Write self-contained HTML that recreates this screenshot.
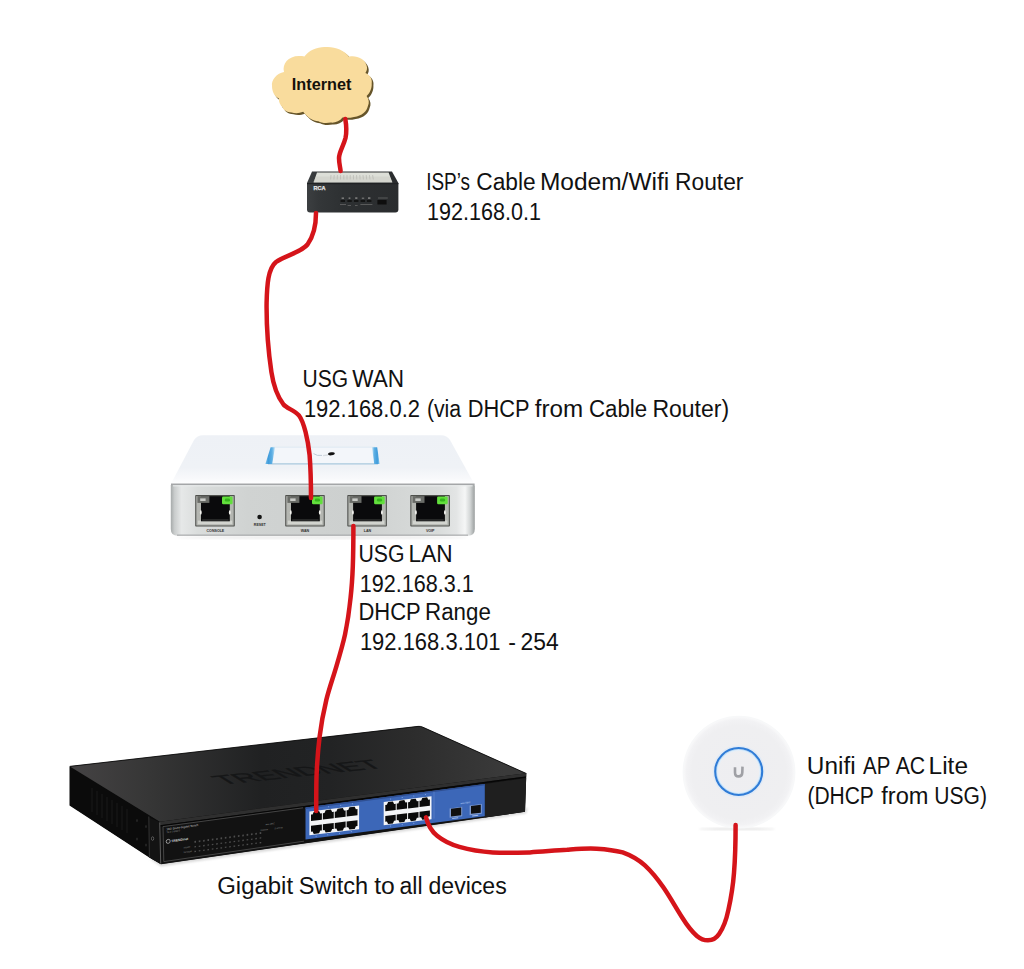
<!DOCTYPE html>
<html lang="en">
<head>
<meta charset="utf-8">
<title>Network diagram</title>
<style>
  html, body { margin: 0; padding: 0; background: #ffffff; }
  body { width: 1024px; height: 969px; overflow: hidden; }
  svg { display: block; }
  .lbl { font-family: "Liberation Sans", sans-serif; font-size: 23px; fill: #111111; }
  .cable { fill: none; stroke: #d5141a; stroke-width: 4.5; stroke-linecap: round; stroke-linejoin: round; }
</style>
</head>
<body>
<svg width="1024" height="969" viewBox="0 0 1024 969">
  <defs>
    <filter id="blur05" x="-10%" y="-10%" width="120%" height="120%"><feGaussianBlur stdDeviation="0.7"/></filter>
    <filter id="blur1" x="-10%" y="-10%" width="120%" height="120%"><feGaussianBlur stdDeviation="0.8"/></filter>
    <filter id="blur2" x="-20%" y="-20%" width="140%" height="140%"><feGaussianBlur stdDeviation="2"/></filter>
    <linearGradient id="usgFront" x1="0" y1="0" x2="1" y2="0">
      <stop offset="0" stop-color="#a6aaaa"/>
      <stop offset="0.012" stop-color="#c9cccc"/>
      <stop offset="0.035" stop-color="#e6e8e8"/>
      <stop offset="0.09" stop-color="#dadddc"/>
      <stop offset="0.25" stop-color="#d0d3d2"/>
      <stop offset="0.6" stop-color="#cdd0cf"/>
      <stop offset="0.88" stop-color="#d9dcdb"/>
      <stop offset="0.94" stop-color="#e3e5e5"/>
      <stop offset="0.968" stop-color="#f5f6f6"/>
      <stop offset="0.985" stop-color="#d2d5d5"/>
      <stop offset="1" stop-color="#9a9e9e"/>
    </linearGradient>
    <linearGradient id="usgTop" x1="0" y1="0" x2="0" y2="1">
      <stop offset="0" stop-color="#eef1f6"/>
      <stop offset="0.65" stop-color="#eff2f6"/>
      <stop offset="0.88" stop-color="#f8f9fb"/>
      <stop offset="1" stop-color="#ffffff"/>
    </linearGradient>
    <radialGradient id="apDisc" cx="0.5" cy="0.5" r="0.5">
      <stop offset="0" stop-color="#eeeef1"/>
      <stop offset="0.85" stop-color="#efeff1"/>
      <stop offset="0.95" stop-color="#f2f2f4"/>
      <stop offset="1" stop-color="#f8f8f9"/>
    </radialGradient>
    <linearGradient id="swTop" x1="0" y1="0" x2="1" y2="0">
      <stop offset="0" stop-color="#454344"/>
      <stop offset="0.175" stop-color="#363636"/>
      <stop offset="0.42" stop-color="#202122"/>
      <stop offset="0.57" stop-color="#222324"/>
      <stop offset="0.745" stop-color="#2c2c2c"/>
      <stop offset="0.95" stop-color="#3a3a3a"/>
      <stop offset="1" stop-color="#3a3a3a"/>
    </linearGradient>
    <g id="usgPort">
      <rect x="0" y="0" width="39.6" height="31.6" rx="0.8" fill="#4f514d"/>
      <rect x="1.1" y="1.1" width="37.4" height="29.4" fill="#b4b6b1"/>
      <rect x="2.6" y="25.6" width="34.4" height="3.6" fill="#d2d4cf"/>
      <rect x="5.8" y="1.1" width="28.8" height="25.2" fill="#0a0a0c"/>
      <rect x="2.2" y="1.1" width="12" height="6.8" fill="#6a6c68"/>
      <rect x="5" y="3.4" width="5.4" height="2.6" fill="#c9cbc7"/>
      <rect x="26.8" y="1.6" width="10.6" height="7.6" rx="1.2" fill="#62df3c"/>
      <rect x="29.6" y="3.6" width="5.2" height="3" rx="1.4" fill="#35b31d"/>
      <ellipse cx="5.6" cy="17.4" rx="0.9" ry="2.2" fill="#f2f2ee"/>
      <ellipse cx="34.6" cy="17.4" rx="0.9" ry="2.2" fill="#f2f2ee"/>
      <rect x="7" y="24.4" width="26.4" height="1.2" fill="#3a3c3a"/>
    </g>
    <linearGradient id="ledL" x1="0" y1="0" x2="1" y2="0">
      <stop offset="0" stop-color="#7cc0ea"/><stop offset="0.3" stop-color="#3f9bda"/><stop offset="0.7" stop-color="#5fb0e4"/><stop offset="1" stop-color="#c4e4f7"/>
    </linearGradient>
    <linearGradient id="ledR" x1="0" y1="0" x2="1" y2="0">
      <stop offset="0" stop-color="#c4e4f7"/><stop offset="0.3" stop-color="#5fb0e4"/><stop offset="0.7" stop-color="#3f9bda"/><stop offset="1" stop-color="#8ccaf0"/>
    </linearGradient>
    <linearGradient id="modemBody" x1="0" y1="0" x2="1" y2="0">
      <stop offset="0" stop-color="#3c3f41"/><stop offset="0.12" stop-color="#343739"/><stop offset="0.4" stop-color="#2d3032"/><stop offset="1" stop-color="#2a2c2e"/>
    </linearGradient>
  </defs>

  <!-- ============ CLOUD ============ -->
  <g id="cloud">
    <path id="cloudShape" transform="translate(1.7,1.9)" fill="#66542b" filter="url(#blur05)"
      d="M272,86 C271,80 277,73 284,72 C282,64 288,56 299,56 C301,56 303,56 304.4,56.5 C309,50 318,46.5 326,47 C335,46.5 344,50 349,56.8 C356,55 365,59 366.6,65.5 C367.5,68 367,71 365.4,73 C370,75 372.5,79 371.7,83.5 C372,88 370,93 366.6,96 C369,99 369.5,103 367.9,106 C367,111 362,116 354,117 C350,118 346,118 342.5,117.5 C340,121 335,123 331,122.6 C326,123.5 321,123 318.4,121.3 C313,121 308,118 303.2,111.8 C299,113.5 295,113.5 291.7,112.4 C287,112 283,110 282.8,107.4 C280,105 278.5,102 279,98.5 C275,97 272,92 272,86 Z"/>
    <path fill="#f9dc9d"
      d="M272,86 C271,80 277,73 284,72 C282,64 288,56 299,56 C301,56 303,56 304.4,56.5 C309,50 318,46.5 326,47 C335,46.5 344,50 349,56.8 C356,55 365,59 366.6,65.5 C367.5,68 367,71 365.4,73 C370,75 372.5,79 371.7,83.5 C372,88 370,93 366.6,96 C369,99 369.5,103 367.9,106 C367,111 362,116 354,117 C350,118 346,118 342.5,117.5 C340,121 335,123 331,122.6 C326,123.5 321,123 318.4,121.3 C313,121 308,118 303.2,111.8 C299,113.5 295,113.5 291.7,112.4 C287,112 283,110 282.8,107.4 C280,105 278.5,102 279,98.5 C275,97 272,92 272,86 Z"/>
    <text x="291.8" y="90.4" font-family="'Liberation Sans', sans-serif" font-weight="bold" font-size="15.8" fill="#15110a" textLength="59.6" lengthAdjust="spacingAndGlyphs">Internet</text>
  </g>


  <!-- ============ MODEM ============ -->
  <g id="modem">
    <path d="M312,171.6 L392,171.6 L398.4,183 L398.4,209.5 Q398.4,212.4 395.4,212.4 L310,212.4 Q307,212.4 307,209.5 L307,183 Z" fill="url(#modemBody)"/>
    <path d="M317,172.5 L388.6,172.5 L392.4,182.4 L313.6,182.4 Z" fill="#dddfd8"/>
    <path d="M316,176.5 L389.5,176.5 L392.4,182 L313.3,182 Z" fill="#c9cac3" opacity="0.45"/>
    <g stroke="#b7b8b2" stroke-width="0.7">
      <line x1="331" y1="175" x2="330.6" y2="179.5"/><line x1="334.2" y1="175" x2="333.9" y2="179.5"/>
      <line x1="337.4" y1="175" x2="337.2" y2="179.5"/><line x1="340.6" y1="175" x2="340.5" y2="179.5"/>
      <line x1="343.8" y1="175" x2="343.8" y2="179.5"/><line x1="347" y1="175" x2="347" y2="179.5"/>
      <line x1="350.2" y1="175" x2="350.2" y2="179.5"/><line x1="353.4" y1="175" x2="353.5" y2="179.5"/>
      <line x1="356.6" y1="175" x2="356.8" y2="179.5"/><line x1="359.8" y1="175" x2="360.1" y2="179.5"/>
      <line x1="363" y1="175" x2="363.4" y2="179.5"/><line x1="366.2" y1="175" x2="366.7" y2="179.5"/>
      <line x1="369.4" y1="175" x2="370" y2="179.5"/><line x1="372.6" y1="175" x2="373.3" y2="179.5"/>
    </g>
    <rect x="307" y="183" width="91.4" height="1.2" fill="#202224"/>
    <text x="313.4" y="189.9" font-family="'Liberation Sans', sans-serif" font-weight="bold" font-size="5" fill="#e6e6e6" stroke="#e6e6e6" stroke-width="0.25" textLength="12" lengthAdjust="spacingAndGlyphs">RCA</text>
    <g fill="#777777">
      <rect x="341.6" y="197.4" width="2.4" height="1.6"/><rect x="348.6" y="197.4" width="1.8" height="1.6"/>
      <rect x="355.2" y="197.2" width="2.2" height="1.8"/><rect x="361.8" y="197.6" width="2.4" height="1.2"/>
      <rect x="368" y="197.2" width="2.4" height="1.8"/>
    </g>
    <g fill="#0e0e0e">
      <rect x="340.6" y="200.2" width="4.4" height="1.6"/><rect x="347.4" y="200.2" width="4.4" height="1.6"/>
      <rect x="354" y="200.2" width="4.4" height="1.6"/><rect x="360.6" y="200.2" width="4.4" height="1.6"/>
      <rect x="367" y="200.2" width="4.4" height="1.6"/>
      <rect x="377.4" y="200" width="9.2" height="4.6" rx="0.6"/>
    </g>
    <g fill="#666666">
      <rect x="340" y="204" width="6" height="0.8"/><rect x="347.6" y="205" width="3.4" height="0.8"/>
      <rect x="355" y="205" width="2.6" height="0.8"/><rect x="360.4" y="204" width="12" height="0.8"/>
      <rect x="378" y="197.6" width="9.8" height="0.8"/>
    </g>
  </g>


  <!-- ============ USG ============ -->
  <g id="usg">
    <!-- soft shadow under -->
    <ellipse cx="322" cy="537.6" rx="146" ry="1.8" fill="#efefef" filter="url(#blur1)"/>
    <!-- top surface -->
    <path d="M203,435.2 L441,435.2 Q447,435.2 450,440 L474.6,484.5 L170.6,484.5 L194,440 Q197,435.2 203,435.2 Z" fill="url(#usgTop)"/>
    <!-- LED plate -->
    <path d="M272,447 L375,447 L378.6,464 L267,464 Z" fill="#f3f6fa"/>
    <path d="M272,447.2 L375,447.2" stroke="#dbe8f2" stroke-width="0.9" fill="none"/>
    <path d="M268,463.8 L378,463.8" stroke="#a9c8dd" stroke-width="1.2" fill="none"/>
    <path d="M270.6,447.2 L275,447.2 L272.2,464 L265.4,464 Z" fill="url(#ledL)"/>
    <path d="M372,447.2 L377.2,447.2 L379.6,464 L374.2,464 Z" fill="url(#ledR)"/>
    <!-- tiny logo on plate -->
    <path d="M313.5,453.6 Q317,456.2 322,455.4" stroke="#b9c6d4" stroke-width="0.9" fill="none"/>
    <ellipse cx="331.4" cy="453.8" rx="3.4" ry="1.5" fill="#111111" transform="rotate(-8 331.4 453.8)"/>
    <path d="M323,455.6 L328,455" stroke="#d8dde2" stroke-width="1.4"/>
    <!-- front face -->
    <path d="M172,484.2 L473,484.2 Q474.8,484.2 474.8,486 L474.8,529 Q474.8,535.8 468,535.8 L177.6,535.8 Q170.8,535.8 170.8,529 L170.8,485.4 Q170.8,484.2 172,484.2 Z" fill="url(#usgFront)"/>
    <rect x="171" y="483.5" width="303.6" height="1.6" fill="#a4a6a8"/>
    <rect x="173" y="485.2" width="299.6" height="1.2" fill="#e9ebeb" opacity="0.9"/>
    <rect x="177" y="534.5" width="291" height="1.3" fill="#a9abac" opacity="0.9"/>
    <!-- ports -->
    <use href="#usgPort" transform="translate(195.2,495)"/>
    <use href="#usgPort" transform="translate(285.2,495)"/>
    <use href="#usgPort" transform="translate(347.3,495)"/>
    <use href="#usgPort" transform="translate(410.3,495)"/>
    <circle cx="259.6" cy="517" r="2.3" fill="#141414"/>
    <g font-family="'Liberation Sans', sans-serif" font-weight="bold" font-size="3.6" fill="#2e2e2e" text-anchor="middle">
      <text x="215.4" y="531.8">CONSOLE</text>
      <text x="259.8" y="526.2">RESET</text>
      <text x="305" y="531.8">WAN</text>
      <text x="367.4" y="531.8">LAN</text>
      <text x="430.2" y="531.8">VOIP</text>
    </g>
  </g>

  <!-- ============ SWITCH ============ -->
  <g id="switch">
    <!-- ground shadow -->
    <path d="M150,859 L161,866.5 L526,813.5 L528,808 Z" fill="#d9d9d9" filter="url(#blur1)"/>
    <!-- silhouette base (avoids anti-alias seams) -->
    <path d="M70,766.6 L418,726.6 Q420.4,726.3 422.4,727.3 L526,773.6 L524.8,811.6 L161.2,863.9 L149.5,857.2 L70,805.2 Z" fill="#1c1c1c"/>
    <!-- left side -->
    <path d="M69.5,766.4 L160,821.7 L161,864.2 L149.3,857.4 L69.5,805.4 Z" fill="#0b0b0b"/>
    <path d="M148.8,817.3 L159.4,822 L160.6,864 L149.3,857.4 Z" fill="#131313"/>
    <path d="M148.8,816.5 L149.4,857.4" stroke="#3c3c3c" stroke-width="0.8"/>
    <ellipse cx="152.6" cy="838.6" rx="1.1" ry="1.8" fill="#0a0a0a" stroke="#8a8a8a" stroke-width="0.6"/>
    <g fill="#2a2a2a">
      <ellipse cx="137" cy="820.6" rx="0.8" ry="1.5"/><ellipse cx="146" cy="826.5" rx="0.8" ry="1.5"/>
      <ellipse cx="137" cy="839" rx="0.8" ry="1.5"/><ellipse cx="146" cy="845" rx="0.8" ry="1.5"/>
    </g>
    <g stroke="#161616" stroke-width="1.4">
      <line x1="92" y1="788" x2="92" y2="812"/><line x1="97" y1="791" x2="97" y2="815"/><line x1="102" y1="794" x2="102" y2="818"/>
      <line x1="107" y1="797" x2="107" y2="821"/><line x1="112" y1="800" x2="112" y2="824"/><line x1="117" y1="803" x2="117" y2="827"/>
      <line x1="122" y1="806" x2="122" y2="830"/><line x1="127" y1="809" x2="127" y2="833"/>
    </g>
    <!-- top surface -->
    <path d="M69.7,766.3 L418,726.3 Q420.4,726 422.6,727 L526.3,773.4 L160,821.7 Z" fill="url(#swTop)"/>
    <path d="M69.7,766.4 L418,726.4 Q420.4,726.1 422.6,727.1 L526.3,773.5" fill="none" stroke="#0c0c0c" stroke-width="0.9"/>
    <!-- embossed brand on top -->
    <text transform="matrix(1,-0.105,0.96,0.583,223,784.6)" x="0" y="0" font-family="'Liberation Sans', sans-serif" font-size="20" fill="#151617" stroke="#151617" stroke-width="0.5" style="text-transform:uppercase" textLength="162" lengthAdjust="spacingAndGlyphs">TRENDnet</text>
    <!-- front face -->
    <path d="M160,821.7 L526.3,773.2 L525,811.8 L161,864.2 Z" fill="#121212"/>
    <path d="M160,821.7 L526.3,773.2 L526.2,776.4 L160.1,825.2 Z" fill="#2f2f2f"/>
    <path d="M160.1,825.2 L526.2,776.4 L526.2,777.6 L160.1,826.5 Z" fill="#060606"/>
    <path d="M484.8,784 L526.2,778 L525,811.8 L484.8,817.4 Z" fill="#1f1f1f"/>
    <path d="M159.7,822.4 L160.7,863.6" stroke="#6e6e6e" stroke-width="0.8" fill="none"/>
    <!-- inset outline of the front panel -->
    <path d="M163,826.6 L303,807.8 M163,826.6 L163.8,861.6 L304,841.2" fill="none" stroke="#5a5a5a" stroke-width="0.7"/>
    <!-- blue panel -->
    <path d="M305.5,807.6 L484.8,784 L484.8,816.2 L305.5,839.6 Z" fill="#3c67b8"/>
    <g fill="#86a8e8">
      <circle cx="316.6" cy="808.3" r="0.55"/><circle cx="328.6" cy="806.8" r="0.55"/><circle cx="340.7" cy="805.2" r="0.55"/><circle cx="352.4" cy="803.7" r="0.55"/>
      <circle cx="316.1" cy="836.2" r="0.55"/><circle cx="327.8" cy="834.8" r="0.55"/><circle cx="339.5" cy="833.3" r="0.55"/><circle cx="351.3" cy="831.6" r="0.55"/>
      <circle cx="390.6" cy="799" r="0.55"/><circle cx="402.2" cy="797.5" r="0.55"/><circle cx="413.8" cy="796" r="0.55"/><circle cx="425.4" cy="794.5" r="0.55"/>
      <circle cx="390.6" cy="826" r="0.55"/><circle cx="402.2" cy="824.6" r="0.55"/><circle cx="413.8" cy="823.2" r="0.55"/><circle cx="425.4" cy="821.8" r="0.55"/>
    </g>
    <path d="M305.5,807.6 L484.8,784 L484.8,785.2 L305.5,808.9 Z" fill="#2f4f92"/>
    <path d="M434,791.6 L434,818.6" stroke="#6f93d4" stroke-width="0.5"/>
    <!-- RJ45 blocks -->
    <g transform="matrix(1,-0.122,0,1,309.4,811.6)">
      <rect x="0" y="0" width="49.7" height="23.6" fill="#f4f5f7"/>
      <path fill="#0a0a0a" d="M1.60,9.56 L1.60,3.20 L3.20,3.20 L4.40,0.60 L9.68,0.60 L10.88,3.20 L12.47,3.20 L12.47,9.56 Z"/>
      <path fill="#0a0a0a" d="M1.60,14.40 L12.47,14.40 L12.47,20.30 L10.88,20.30 L9.68,22.90 L4.40,22.90 L3.20,20.30 L1.60,20.30 Z"/>
      <path fill="#0a0a0a" d="M13.47,9.56 L13.47,3.20 L15.07,3.20 L16.27,0.60 L21.55,0.60 L22.75,3.20 L24.35,3.20 L24.35,9.56 Z"/>
      <path fill="#0a0a0a" d="M13.47,14.40 L24.35,14.40 L24.35,20.30 L22.75,20.30 L21.55,22.90 L16.27,22.90 L15.07,20.30 L13.47,20.30 Z"/>
      <path fill="#0a0a0a" d="M25.35,9.56 L25.35,3.20 L26.95,3.20 L28.15,0.60 L33.43,0.60 L34.62,3.20 L36.23,3.20 L36.23,9.56 Z"/>
      <path fill="#0a0a0a" d="M25.35,14.40 L36.23,14.40 L36.23,20.30 L34.62,20.30 L33.43,22.90 L28.15,22.90 L26.95,20.30 L25.35,20.30 Z"/>
      <path fill="#0a0a0a" d="M37.23,9.56 L37.23,3.20 L38.83,3.20 L40.02,0.60 L45.30,0.60 L46.50,3.20 L48.10,3.20 L48.10,9.56 Z"/>
      <path fill="#0a0a0a" d="M37.23,14.40 L48.10,14.40 L48.10,20.30 L46.50,20.30 L45.30,22.90 L40.02,22.90 L38.83,20.30 L37.23,20.30 Z"/>
      </g>
    <g transform="matrix(1,-0.122,0,1,383.7,802.0)">
      <rect x="0" y="0" width="47.8" height="23.2" fill="#f4f5f7"/>
      <path fill="#0a0a0a" d="M1.60,9.40 L1.60,3.20 L3.20,3.20 L4.40,0.60 L9.20,0.60 L10.40,3.20 L12.00,3.20 L12.00,9.40 Z"/>
      <path fill="#0a0a0a" d="M1.60,14.15 L12.00,14.15 L12.00,19.90 L10.40,19.90 L9.20,22.50 L4.40,22.50 L3.20,19.90 L1.60,19.90 Z"/>
      <path fill="#0a0a0a" d="M13.00,9.40 L13.00,3.20 L14.60,3.20 L15.80,0.60 L20.60,0.60 L21.80,3.20 L23.40,3.20 L23.40,9.40 Z"/>
      <path fill="#0a0a0a" d="M13.00,14.15 L23.40,14.15 L23.40,19.90 L21.80,19.90 L20.60,22.50 L15.80,22.50 L14.60,19.90 L13.00,19.90 Z"/>
      <path fill="#0a0a0a" d="M24.40,9.40 L24.40,3.20 L26.00,3.20 L27.20,0.60 L32.00,0.60 L33.20,3.20 L34.80,3.20 L34.80,9.40 Z"/>
      <path fill="#0a0a0a" d="M24.40,14.15 L34.80,14.15 L34.80,19.90 L33.20,19.90 L32.00,22.50 L27.20,22.50 L26.00,19.90 L24.40,19.90 Z"/>
      <path fill="#0a0a0a" d="M35.80,9.40 L35.80,3.20 L37.40,3.20 L38.60,0.60 L43.40,0.60 L44.60,3.20 L46.20,3.20 L46.20,9.40 Z"/>
      <path fill="#0a0a0a" d="M35.80,14.15 L46.20,14.15 L46.20,19.90 L44.60,19.90 L43.40,22.50 L38.60,22.50 L37.40,19.90 L35.80,19.90 Z"/>
      </g>
    <!-- SFP ports -->
    <g transform="matrix(1,-0.122,0,1,449.6,808.4)">
      <rect x="0" y="0" width="12.6" height="9.4" fill="#7f9bd1"/>
      <rect x="1.4" y="0.6" width="10.2" height="7.6" fill="#101010"/>
      <rect x="2.6" y="10" width="6" height="0.9" fill="#a9bfe6"/>
    </g>
    <g transform="matrix(1,-0.122,0,1,469.6,805.6)">
      <rect x="0" y="0" width="12.2" height="9.6" fill="#7f9bd1"/>
      <rect x="1.4" y="0.6" width="9.8" height="7.8" fill="#101010"/>
      <rect x="2.6" y="10.2" width="6" height="0.9" fill="#a9bfe6"/>
    </g>
    <text transform="matrix(1,-0.122,0,1,460.4,804.2)" font-family="'Liberation Sans', sans-serif" font-size="2.3" font-weight="bold" fill="#a9c1ee" textLength="10" lengthAdjust="spacingAndGlyphs">mini-GBIC</text>
    <!-- tiny front text and LEDs -->
    <g transform="matrix(1,-0.134,0,1,166.4,830.2)" font-family="'Liberation Sans', sans-serif" fill="#d2d2d2">
      <text x="0" y="0" font-size="2.6" textLength="32" lengthAdjust="spacingAndGlyphs">16G Smart Gigabit Switch</text>
      <text x="0" y="3" font-size="2.4" fill="#8a8a8a">TEG-160WS</text>
      <circle cx="1.8" cy="11.4" r="2" fill="none" stroke="#c4c4c4" stroke-width="0.7"/>
      <text x="4.8" y="12.6" font-size="3.4" font-weight="bold" fill="#dadada" textLength="17" lengthAdjust="spacingAndGlyphs">TRENDnet</text>
      <text x="17" y="20.6" font-size="2.2" fill="#8e8e8e">1000M</text>
      <text x="17" y="25.2" font-size="2.2" fill="#8e8e8e">10/100M</text>
      <g fill="#4d4d4d">
        <rect x="28.00" y="14.6" width="1.6" height="1.8"/><rect x="32.35" y="14.6" width="1.6" height="1.8"/><rect x="36.70" y="14.6" width="1.6" height="1.8"/><rect x="41.05" y="14.6" width="1.6" height="1.8"/><rect x="45.40" y="14.6" width="1.6" height="1.8"/><rect x="49.75" y="14.6" width="1.6" height="1.8"/><rect x="54.10" y="14.6" width="1.6" height="1.8"/><rect x="58.45" y="14.6" width="1.6" height="1.8"/><rect x="62.80" y="14.6" width="1.6" height="1.8"/><rect x="67.15" y="14.6" width="1.6" height="1.8"/><rect x="71.50" y="14.6" width="1.6" height="1.8"/><rect x="75.85" y="14.6" width="1.6" height="1.8"/><rect x="80.20" y="14.6" width="1.6" height="1.8"/><rect x="84.55" y="14.6" width="1.6" height="1.8"/><rect x="88.90" y="14.6" width="1.6" height="1.8"/><rect x="93.25" y="14.6" width="1.6" height="1.8"/><rect x="28.00" y="19.8" width="1.6" height="1.3"/><rect x="32.35" y="19.8" width="1.6" height="1.3"/><rect x="36.70" y="19.8" width="1.6" height="1.3"/><rect x="41.05" y="19.8" width="1.6" height="1.3"/><rect x="45.40" y="19.8" width="1.6" height="1.3"/><rect x="49.75" y="19.8" width="1.6" height="1.3"/><rect x="54.10" y="19.8" width="1.6" height="1.3"/><rect x="58.45" y="19.8" width="1.6" height="1.3"/><rect x="62.80" y="19.8" width="1.6" height="1.3"/><rect x="67.15" y="19.8" width="1.6" height="1.3"/><rect x="71.50" y="19.8" width="1.6" height="1.3"/><rect x="75.85" y="19.8" width="1.6" height="1.3"/><rect x="80.20" y="19.8" width="1.6" height="1.3"/><rect x="84.55" y="19.8" width="1.6" height="1.3"/><rect x="88.90" y="19.8" width="1.6" height="1.3"/><rect x="93.25" y="19.8" width="1.6" height="1.3"/><rect x="28.00" y="24.4" width="1.6" height="1.3"/><rect x="32.35" y="24.4" width="1.6" height="1.3"/><rect x="36.70" y="24.4" width="1.6" height="1.3"/><rect x="41.05" y="24.4" width="1.6" height="1.3"/><rect x="45.40" y="24.4" width="1.6" height="1.3"/><rect x="49.75" y="24.4" width="1.6" height="1.3"/><rect x="54.10" y="24.4" width="1.6" height="1.3"/><rect x="58.45" y="24.4" width="1.6" height="1.3"/><rect x="62.80" y="24.4" width="1.6" height="1.3"/><rect x="67.15" y="24.4" width="1.6" height="1.3"/><rect x="71.50" y="24.4" width="1.6" height="1.3"/><rect x="75.85" y="24.4" width="1.6" height="1.3"/><rect x="80.20" y="24.4" width="1.6" height="1.3"/><rect x="84.55" y="24.4" width="1.6" height="1.3"/><rect x="88.90" y="24.4" width="1.6" height="1.3"/><rect x="93.25" y="24.4" width="1.6" height="1.3"/>
      </g>
      <text x="99" y="8.4" font-size="2" fill="#9a9a9a">mini-GBIC</text>
      <text x="94" y="13.6" font-size="2" fill="#8a8a8a">POWER</text>
      <text x="108" y="13.6" font-size="2" fill="#8a8a8a">SYSTEM</text>
    </g>
  </g>

  <!-- ============ ACCESS POINT ============ -->
  <g id="ap">
    <ellipse cx="737" cy="829" rx="38" ry="1.1" fill="#e4e4e4" filter="url(#blur1)"/>
    <circle cx="739" cy="772.2" r="56.4" fill="#f7f8f9"/>
    <circle cx="739" cy="772.2" r="55.2" fill="url(#apDisc)"/>
    <circle cx="738.7" cy="771.5" r="25.3" fill="none" stroke="#dfeaf7" stroke-width="1.4"/>
    <circle cx="738.7" cy="771.5" r="21.9" fill="none" stroke="#bfdff9" stroke-width="1.3"/>
    <circle cx="738.7" cy="771.5" r="21" fill="none" stroke="#e4f0fb" stroke-width="1"/>
    <circle cx="738.7" cy="771.5" r="23.5" fill="none" stroke="#2f7cd7" stroke-width="2.1"/>
    <path d="M735,767.2 L735,772.4 Q735,776.4 738.6,776.4 Q742.2,776.4 742.3,772.4 L742.5,766.6" fill="none" stroke="#9fa0a5" stroke-width="2.6"/>
  </g>
  <!-- CABLES_START -->
  <!-- ============ CABLE: cloud to modem ============ -->
  <path class="cable" d="M345.3,119 C346.5,126 347,131 345.5,138 C343.5,146 339,152 339,158 C339,163 340.2,167 340.6,171"/>
  <!-- ============ CABLE: modem to USG WAN ============ -->
  <path class="cable" d="M316,213 C316,222 315,234 307.5,244.5 C301,252.5 286,255 276,262 C268,268.5 267,285 266.6,303 C266.4,322 267.4,345 271.4,372 C273.5,386 277,396 283.5,404.5 C287,408.5 294,410 299,415.5 C304,422 308,440 309.6,455 C310.6,468 311,482 311,498"/>
  <!-- ============ CABLE: USG LAN to switch ============ -->
  <path class="cable" d="M353.4,526 C353.4,540 353.3,553 352.8,566.4 C352.4,577 351.8,587 350.6,597.4 C349.3,610 347.6,622 345,634.6 C342.5,646 339,657.5 335.7,668.6 C332.6,679 329,689 326.4,699.6 C323.4,712 321.2,724 319.6,736.7 C318,750 317,763 316.5,777 C316.2,789 316.2,800 316.2,811"/>
  <!-- ============ CABLE: switch to access point ============ -->
  <path class="cable" d="M426,817.4 C428,825 431,831 437.1,835.7 C443,840.5 451,844.5 459.4,846.8 C470,849.8 481,851.6 492.8,852.4 C505,853.2 517,852.8 529.9,852.4 C542,851.8 555,850.4 567,849.8 C577,849 587,848 596.7,848.7 C606,849.3 615,850.4 622.7,852.4 C631,855.4 638.5,859.6 644.9,865.4 C652,872 658,879.6 663.5,887.6 C670,897 676,908 682,917.3 C686.5,924.5 691,931 696.9,935.9 C700.5,938.8 704,940.4 708,940.3 C712.5,940.2 716.5,938 719.1,934 C723.6,927.6 726.5,919 728.4,909.9 C731,898 733,886 734,872.8 C735.2,858 735.6,842 735.6,825"/>
  <!-- CABLES_END -->
  <g class="lbl">
    <text y="190.4"><tspan x="426.2" textLength="43.9" lengthAdjust="spacingAndGlyphs">ISP’s</tspan> <tspan x="476.3" textLength="59.4" lengthAdjust="spacingAndGlyphs">Cable</tspan> <tspan x="539.9" textLength="129.3" lengthAdjust="spacingAndGlyphs">Modem/Wifi</tspan> <tspan x="675.1" textLength="68.3" lengthAdjust="spacingAndGlyphs">Router</tspan></text>
    <text y="220.4"><tspan x="427.1" textLength="113.8" lengthAdjust="spacingAndGlyphs">192.168.0.1</tspan></text>
    <text y="386.9"><tspan x="302.6" textLength="45.6" lengthAdjust="spacingAndGlyphs">USG</tspan> <tspan x="352.3" textLength="51.8" lengthAdjust="spacingAndGlyphs">WAN</tspan></text>
    <text y="417.0"><tspan x="303.9" textLength="116.1" lengthAdjust="spacingAndGlyphs">192.168.0.2</tspan> <tspan x="426.9" textLength="34.3" lengthAdjust="spacingAndGlyphs">(via</tspan> <tspan x="467.7" textLength="61.4" lengthAdjust="spacingAndGlyphs">DHCP</tspan> <tspan x="534.7" textLength="48.4" lengthAdjust="spacingAndGlyphs">from</tspan> <tspan x="589.0" textLength="58.1" lengthAdjust="spacingAndGlyphs">Cable</tspan> <tspan x="652.4" textLength="76.7" lengthAdjust="spacingAndGlyphs">Router)</tspan></text>
    <text y="562.2"><tspan x="358.5" textLength="46.1" lengthAdjust="spacingAndGlyphs">USG</tspan> <tspan x="408.6" textLength="44.1" lengthAdjust="spacingAndGlyphs">LAN</tspan></text>
    <text y="591.6"><tspan x="359.7" textLength="114.1" lengthAdjust="spacingAndGlyphs">192.168.3.1</tspan></text>
    <text y="620.3"><tspan x="358.4" textLength="61.9" lengthAdjust="spacingAndGlyphs">DHCP</tspan> <tspan x="425.1" textLength="65.7" lengthAdjust="spacingAndGlyphs">Range</tspan></text>
    <text y="650.2"><tspan x="359.9" textLength="140.5" lengthAdjust="spacingAndGlyphs">192.168.3.101</tspan> <tspan x="508.2" textLength="7.7" lengthAdjust="spacingAndGlyphs">-</tspan> <tspan x="520.5" textLength="38.1" lengthAdjust="spacingAndGlyphs">254</tspan></text>
    <text y="893.7"><tspan x="217.2" textLength="75.9" lengthAdjust="spacingAndGlyphs">Gigabit</tspan> <tspan x="298.8" textLength="69.4" lengthAdjust="spacingAndGlyphs">Switch</tspan> <tspan x="374.2" textLength="20.6" lengthAdjust="spacingAndGlyphs">to</tspan> <tspan x="399.5" textLength="23.0" lengthAdjust="spacingAndGlyphs">all</tspan> <tspan x="428.5" textLength="78.2" lengthAdjust="spacingAndGlyphs">devices</tspan></text>
    <text y="774.4"><tspan x="806.8" textLength="48.8" lengthAdjust="spacingAndGlyphs">Unifi</tspan> <tspan x="863.0" textLength="26.9" lengthAdjust="spacingAndGlyphs">AP</tspan> <tspan x="895.7" textLength="29.5" lengthAdjust="spacingAndGlyphs">AC</tspan> <tspan x="928.6" textLength="39.4" lengthAdjust="spacingAndGlyphs">Lite</tspan></text>
    <text y="804.1"><tspan x="807.4" textLength="66.1" lengthAdjust="spacingAndGlyphs">(DHCP</tspan> <tspan x="881.3" textLength="47.2" lengthAdjust="spacingAndGlyphs">from</tspan> <tspan x="934.3" textLength="52.6" lengthAdjust="spacingAndGlyphs">USG)</tspan></text>
  </g>
</svg>
</body>
</html>
